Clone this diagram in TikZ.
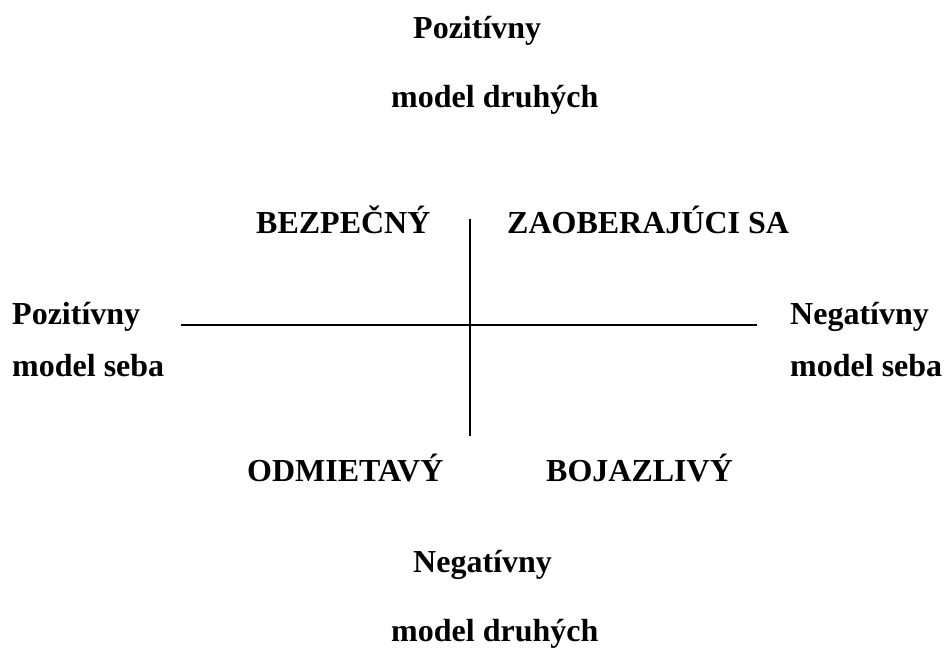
\documentclass[tikz,border=0pt]{standalone}
\usepackage{fontspec}
\setmainfont{Liberation Serif}
\begin{document}
\begin{tikzpicture}[x=1pt,y=-1pt,
  lbl/.style={anchor=base west,inner sep=0pt,font=\fontsize{32}{38}\selectfont\bfseries},
  axis/.style={line width=2pt,black}]
\useasboundingbox (0,0) rectangle (946,648);
\node[lbl] (pt) at (413,38) {Pozitívny};
\node[lbl] (pt2) at (391,107) {model druhých};
\node[lbl] (bez) at (256,233) {BEZPEČNÝ};
\node[lbl] (zao) at (507,233) {ZAOBERAJÚCI SA};
\node[lbl] (pl) at (12,324) {Pozitívny};
\node[lbl] (pl2) at (12,376) {model seba};
\node[lbl] (nr) at (790,324) {Negatívny};
\node[lbl] (nr2) at (790,376) {model seba};
\node[lbl] (odm) at (247,481) {ODMIETAVÝ};
\node[lbl] (boj) at (546,481) {BOJAZLIVÝ};
\node[lbl] (nb) at (413,572) {Negatívny};
\node[lbl] (nb2) at (391,641) {model druhých};
\coordinate (vt) at (469.5,219);
\coordinate (vb) at (469.5,436);
\coordinate (hl) at (181,325);
\coordinate (hr) at (757,325);
\draw[axis] (vt) -- (vb);
\draw[axis] (hl) -- (hr);
\end{tikzpicture}
\end{document}
